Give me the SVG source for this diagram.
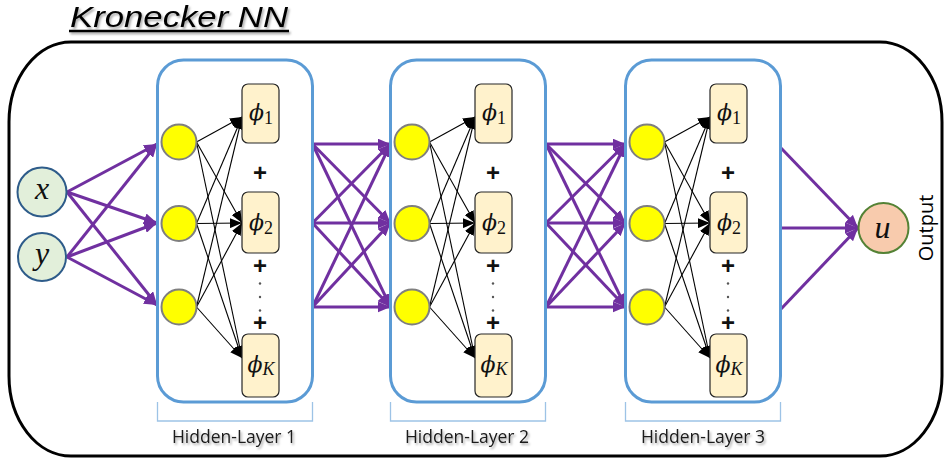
<svg xmlns="http://www.w3.org/2000/svg" width="946" height="462" viewBox="0 0 946 462">
<style>
.outer{fill:#fff;stroke:#000;stroke-width:3}
.layer{fill:none;stroke:#5B9BD5;stroke-width:3}
.neuron{fill:#FFFF00;stroke:#7F7F7F;stroke-width:2}
.basis{fill:#FFF2CC;stroke:#262626;stroke-width:1.2}
.inp{fill:#E2EFDA;stroke:#2E5C8A;stroke-width:2}
.outn{fill:#F8CBAD;stroke:#548235;stroke-width:2}
.math{font-family:"Liberation Serif","DejaVu Serif",serif;font-style:italic;fill:#111}
.phi{font-family:"DejaVu Serif","Liberation Serif",serif;font-style:italic;font-weight:normal;fill:#111}
.sub{font-family:"Liberation Serif","DejaVu Serif",serif;font-style:normal;fill:#111}
.plus{font-family:"Liberation Sans",Arial,sans-serif;font-weight:bold;font-size:24px;fill:#111;text-anchor:middle}
.lbl{font-family:"Open Sans","Liberation Sans",sans-serif;font-size:17.5px;fill:#1a1a1a;text-anchor:middle}
.bracket{fill:none;stroke:#9DC3E6;stroke-width:1.3}
.blk line{stroke:#000;stroke-width:1.1;marker-end:url(#ah)}
.pur line{stroke:#7030A0;stroke-width:3;marker-end:url(#ap)}
.dot{fill:#555}
</style>
<defs>
<marker id="ah" markerUnits="userSpaceOnUse" markerWidth="12" markerHeight="10" refX="12" refY="5" orient="auto"><path d="M0,0 L12,5 L0,10 z" fill="#000"/></marker>
<marker id="ap" markerUnits="userSpaceOnUse" markerWidth="13" markerHeight="11" refX="13" refY="5.5" orient="auto"><path d="M0,0 L13,5.5 L0,11 z" fill="#7030A0"/></marker>
<filter id="sh" x="-10%" y="-40%" width="130%" height="200%"><feDropShadow dx="1.5" dy="2" stdDeviation="1" flood-color="#000" flood-opacity="0.35"/></filter>
</defs>

<g id="frame">
<rect class="outer" x="9" y="42" width="933" height="414" rx="62" ry="80"/>
</g>

<g id="title" filter="url(#sh)">
<text x="70" y="26.5" font-family="'Liberation Sans',Arial,sans-serif" font-style="italic" font-size="29" fill="#000" textLength="218" lengthAdjust="spacingAndGlyphs">Kronecker NN</text>
<line x1="69" y1="31" x2="289" y2="31" stroke="#000" stroke-width="2.5"/>
</g>

<g id="connectors">
<g class="pur">
<line x1="67" y1="192" x2="157" y2="144"/>
<line x1="67" y1="192" x2="157" y2="223"/>
<line x1="67" y1="192" x2="157" y2="305"/>
<line x1="67" y1="257" x2="157" y2="144"/>
<line x1="67" y1="257" x2="157" y2="223"/>
<line x1="67" y1="257" x2="157" y2="305"/>

<line x1="312.5" y1="144" x2="390.5" y2="144"/>
<line x1="312.5" y1="144" x2="390.5" y2="223"/>
<line x1="312.5" y1="144" x2="390.5" y2="307"/>
<line x1="312.5" y1="223" x2="390.5" y2="144"/>
<line x1="312.5" y1="223" x2="390.5" y2="223"/>
<line x1="312.5" y1="223" x2="390.5" y2="307"/>
<line x1="312.5" y1="307" x2="390.5" y2="144"/>
<line x1="312.5" y1="307" x2="390.5" y2="223"/>
<line x1="312.5" y1="307" x2="390.5" y2="307"/>

<line x1="546" y1="144" x2="625.5" y2="144"/>
<line x1="546" y1="144" x2="625.5" y2="223"/>
<line x1="546" y1="144" x2="625.5" y2="307"/>
<line x1="546" y1="223" x2="625.5" y2="144"/>
<line x1="546" y1="223" x2="625.5" y2="223"/>
<line x1="546" y1="223" x2="625.5" y2="307"/>
<line x1="546" y1="307" x2="625.5" y2="144"/>
<line x1="546" y1="307" x2="625.5" y2="223"/>
<line x1="546" y1="307" x2="625.5" y2="307"/>

<line x1="781" y1="148" x2="858" y2="228"/>
<line x1="781" y1="228" x2="858" y2="228"/>
<line x1="781" y1="309" x2="858" y2="228"/>
</g>
<g class="blk" id="inner1">
<line x1="196.5" y1="142" x2="242" y2="117"/>
<line x1="196.5" y1="142" x2="242" y2="223"/>
<line x1="196.5" y1="142" x2="242" y2="358"/>
<line x1="196.5" y1="223.5" x2="242" y2="117"/>
<line x1="196.5" y1="223.5" x2="242" y2="223"/>
<line x1="196.5" y1="223.5" x2="242" y2="358"/>
<line x1="196.5" y1="307" x2="242" y2="117"/>
<line x1="196.5" y1="307" x2="242" y2="223"/>
<line x1="196.5" y1="307" x2="242" y2="358"/>
</g>
<use href="#inner1" transform="translate(233,0)"/>
<use href="#inner1" transform="translate(468,0)"/>
</g>

<g id="input-x"><circle class="inp" cx="42" cy="192" r="24.5"/><text class="math" x="42" y="199" font-size="32" text-anchor="middle">x</text></g>
<g id="input-y"><circle class="inp" cx="42" cy="257" r="24"/><text class="math" x="42" y="264" font-size="32" text-anchor="middle">y</text></g>

<g id="hidden-layer-1">
<rect class="layer" x="157.5" y="60" width="155" height="342" rx="26" ry="26"/>
<g id="h1-n1"><circle class="neuron" cx="179" cy="142" r="17.5"/></g>
<g id="h1-n2"><circle class="neuron" cx="179" cy="223.5" r="17.5"/></g>
<g id="h1-n3"><circle class="neuron" cx="179" cy="307" r="17.5"/></g>
<g id="h1-phi1"><rect class="basis" x="242" y="84" width="37" height="59" rx="6"/><text x="261" y="120" text-anchor="middle"><tspan class="phi" font-size="22">ϕ</tspan><tspan class="sub" font-size="18" dy="3.5">1</tspan></text></g>
<g id="h1-phi2"><rect class="basis" x="242" y="192" width="37" height="61" rx="6"/><text x="261" y="230" text-anchor="middle"><tspan class="phi" font-size="22">ϕ</tspan><tspan class="sub" font-size="18" dy="4">2</tspan></text></g>
<g id="h1-phiK"><rect class="basis" x="242" y="334" width="37" height="63" rx="6"/><text x="261" y="372" text-anchor="middle"><tspan class="phi" font-size="22">ϕ</tspan><tspan class="math" font-size="18" dy="3">K</tspan></text></g>
<text class="plus" x="260" y="181">+</text>
<text class="plus" x="260" y="273.5">+</text>
<circle class="dot" cx="260" cy="283.5" r="1.2"/><circle class="dot" cx="260" cy="297" r="1.2"/><circle class="dot" cx="260" cy="310.5" r="1.2"/>
<text class="plus" x="260" y="330.5">+</text>
<path class="bracket" d="M157.5,402 V421 H312.5 V402"/>
<text class="lbl" x="234" y="443" filter="url(#sh)">Hidden-Layer 1</text>
</g>

<g id="hidden-layer-2">
<rect class="layer" x="390.5" y="60" width="155" height="342" rx="26" ry="26"/>
<g id="h2-n1"><circle class="neuron" cx="412" cy="142" r="17.5"/></g>
<g id="h2-n2"><circle class="neuron" cx="412" cy="223.5" r="17.5"/></g>
<g id="h2-n3"><circle class="neuron" cx="412" cy="307" r="17.5"/></g>
<g id="h2-phi1"><rect class="basis" x="475" y="84" width="37" height="59" rx="6"/><text x="494" y="120" text-anchor="middle"><tspan class="phi" font-size="22">ϕ</tspan><tspan class="sub" font-size="18" dy="3.5">1</tspan></text></g>
<g id="h2-phi2"><rect class="basis" x="475" y="192" width="37" height="61" rx="6"/><text x="494" y="230" text-anchor="middle"><tspan class="phi" font-size="22">ϕ</tspan><tspan class="sub" font-size="18" dy="4">2</tspan></text></g>
<g id="h2-phiK"><rect class="basis" x="475" y="334" width="37" height="63" rx="6"/><text x="494" y="372" text-anchor="middle"><tspan class="phi" font-size="22">ϕ</tspan><tspan class="math" font-size="18" dy="3">K</tspan></text></g>
<text class="plus" x="493" y="181">+</text>
<text class="plus" x="493" y="273.5">+</text>
<circle class="dot" cx="493" cy="283.5" r="1.2"/><circle class="dot" cx="493" cy="297" r="1.2"/><circle class="dot" cx="493" cy="310.5" r="1.2"/>
<text class="plus" x="493" y="330.5">+</text>
<path class="bracket" d="M390.5,402 V421 H545.5 V402"/>
<text class="lbl" x="467" y="443" filter="url(#sh)">Hidden-Layer 2</text>
</g>

<g id="hidden-layer-3">
<rect class="layer" x="625.5" y="60" width="155" height="342" rx="26" ry="26"/>
<g id="h3-n1"><circle class="neuron" cx="647" cy="142" r="17.5"/></g>
<g id="h3-n2"><circle class="neuron" cx="647" cy="223.5" r="17.5"/></g>
<g id="h3-n3"><circle class="neuron" cx="647" cy="307" r="17.5"/></g>
<g id="h3-phi1"><rect class="basis" x="710" y="84" width="37" height="59" rx="6"/><text x="729" y="120" text-anchor="middle"><tspan class="phi" font-size="22">ϕ</tspan><tspan class="sub" font-size="18" dy="3.5">1</tspan></text></g>
<g id="h3-phi2"><rect class="basis" x="710" y="192" width="37" height="61" rx="6"/><text x="729" y="230" text-anchor="middle"><tspan class="phi" font-size="22">ϕ</tspan><tspan class="sub" font-size="18" dy="4">2</tspan></text></g>
<g id="h3-phiK"><rect class="basis" x="710" y="334" width="37" height="63" rx="6"/><text x="729" y="372" text-anchor="middle"><tspan class="phi" font-size="22">ϕ</tspan><tspan class="math" font-size="18" dy="3">K</tspan></text></g>
<text class="plus" x="728" y="181">+</text>
<text class="plus" x="728" y="273.5">+</text>
<circle class="dot" cx="728" cy="283.5" r="1.2"/><circle class="dot" cx="728" cy="297" r="1.2"/><circle class="dot" cx="728" cy="310.5" r="1.2"/>
<text class="plus" x="728" y="330.5">+</text>
<path class="bracket" d="M625.5,402 V421 H780.5 V402"/>
<text class="lbl" x="703" y="443" filter="url(#sh)">Hidden-Layer 3</text>
</g>

<g id="output-u"><circle class="outn" cx="883.5" cy="228" r="25"/><text class="math" x="882.5" y="238" font-size="32" text-anchor="middle">u</text></g>
<g id="output-label"><text class="lbl" transform="translate(933,228) rotate(-90)" x="0" y="0" style="font-size:20px;fill:#000">Output</text></g>
</svg>
